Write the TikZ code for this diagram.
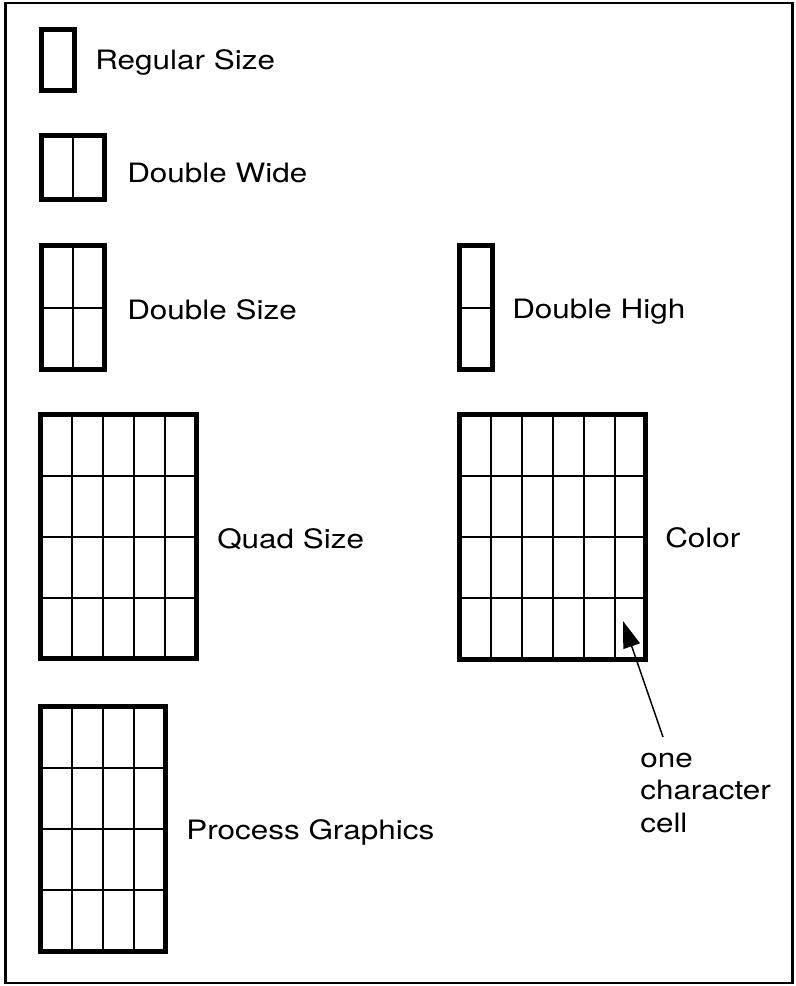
\documentclass[tikz,border=0pt]{standalone}
\usepackage{graphicx}
\usepackage{fontspec}
\setmainfont{TeX Gyre Heros}
\usetikzlibrary{arrows.meta}
\newcommand\lbl[1]{\scalebox{1.18}[1]{#1}}
% x1 y1 x2 y2 (outer edges, px), cols, rows
\newcommand\cellgrid[6]{%
  \pgfmathsetmacro\gxa{#1+2.5}\pgfmathsetmacro\gya{#2+2.5}%
  \pgfmathsetmacro\gxb{#3-2.5}\pgfmathsetmacro\gyb{#4-2.5}%
  \foreach \i in {1,...,#5}{\ifnum\i<#5
    \draw[innerline] ({\gxa+(\gxb-\gxa)*\i/#5},\gya) -- ({\gxa+(\gxb-\gxa)*\i/#5},\gyb);\fi}%
  \foreach \j in {1,...,#6}{\ifnum\j<#6
    \draw[innerline] (\gxa,{\gya+(\gyb-\gya)*\j/#6}) -- (\gxb,{\gya+(\gyb-\gya)*\j/#6});\fi}%
  \draw[outerline] (\gxa,\gya) rectangle (\gxb,\gyb);%
}
\begin{document}
\begin{tikzpicture}[x=0.75pt,y=-0.75pt,
  innerline/.style={line width=1.5pt},
  outerline/.style={line width=3.6pt},
  lab/.style={anchor=base west,inner sep=0pt,font=\fontsize{20}{24.75}\selectfont}]
\useasboundingbox (0,0) rectangle (796,986);
\fill[white] (0,0) rectangle (796,986);
\draw[line width=1.6pt] (5.5,3) rectangle (792.5,983);

\cellgrid{39}{27}{77}{93}{1}{1}
\cellgrid{39}{133}{107}{202}{2}{1}
\cellgrid{39}{243}{107}{372}{2}{2}
\cellgrid{457}{243}{495}{372}{1}{2}
\cellgrid{38}{412}{199}{661}{5}{4}
\cellgrid{457}{412}{648}{662}{6}{4}
\cellgrid{38}{704}{168}{954}{4}{4}

\node[lab] (regular) at (95,69) {\lbl{Regular Size}};
\node[lab] (dwide) at (127,182) {\lbl{Double Wide}};
\node[lab] (dsize) at (127,319) {\lbl{Double Size}};
\node[lab] (dhigh) at (512,318) {\lbl{Double High}};
\node[lab] (quad) at (217,548) {\lbl{Quad Size}};
\node[lab] (color) at (665,547) {\lbl{Color}};
\node[lab] (process) at (186,839) {\lbl{Process Graphics}};
\node[lab] (one) at (640,767) {\lbl{one}};
\node[lab] (character) at (640,799) {\lbl{character}};
\node[lab] (cell) at (640,832) {\lbl{cell}};

\coordinate (celltail) at (663,737);
\coordinate (celltip) at (623,621);
\draw[line width=1.1pt,-{Triangle[length=20pt,width=13pt]}] (celltail) -- (celltip);
\end{tikzpicture}
\end{document}
